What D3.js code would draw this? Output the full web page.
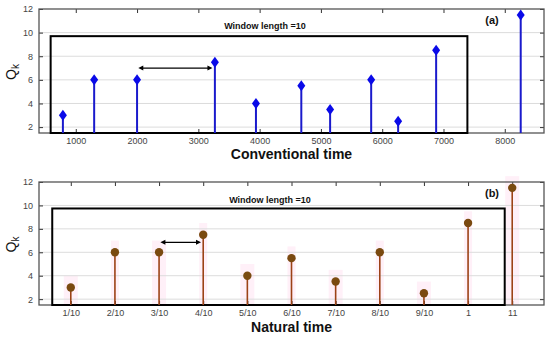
<!DOCTYPE html>
<html><head><meta charset="utf-8">
<script src="https://cdn.jsdelivr.net/npm/d3@7"></script>
<style>body{margin:0;background:#fff}svg{display:block}</style>
</head><body>
<svg id="c" width="550" height="338"></svg>
<script>
// ---- data ----
const convTime = [790, 1300, 2000, 3270, 3940, 4680, 5150, 5820, 6260, 6880, 8260];
const qValues  = [3, 6, 6, 7.5, 4, 5.5, 3.5, 6, 2.5, 8.5, 11.5];
const natLabels = ["1/10","2/10","3/10","4/10","5/10","6/10","7/10","8/10","9/10","1","11"];
const convTicks = [1000,2000,3000,4000,5000,6000,7000,8000];
const yTicks = [2,4,6,8,10,12];
const windowA = {x0: 590, x1: 7390, top: 9.7};
const arrowA = {x0: 2020, x1: 3230, y: 7};
const windowB = {x0: -0.42, x1: 9.83, top: 9.74};
const arrowB = {x0: 2.03, x1: 2.95, y: 6.85};
const windowText = "Window length =10";

const svg = d3.select("#c");
const L = 39, R = 544;
const font = "Liberation Sans, Arial, Helvetica, sans-serif";

function panel(top, bottom, xScale, ticks, tickFmt, xLabel, tag, labelY, win, arr, textX, textY) {
  const y = d3.scaleLinear().domain([1.5, 12]).range([bottom, top]);
  const g = svg.append("g");
  g.selectAll(".grid").data(yTicks.filter(t => t < 12)).join("line")
    .attr("x1", L).attr("x2", R).attr("y1", d => y(d)).attr("y2", d => y(d))
    .attr("stroke", "#dcdcdc").attr("stroke-width", 1);
  const axL = d3.axisLeft(y).tickValues(yTicks).tickSize(-4).tickPadding(6);
  const gl = g.append("g").attr("transform", `translate(${L},0)`).call(axL);
  const axR = d3.axisRight(y).tickValues(yTicks).tickSize(-4).tickFormat("");
  const gr = g.append("g").attr("transform", `translate(${R},0)`).call(axR);
  const axB = d3.axisBottom(xScale).tickValues(ticks).tickSize(-4).tickPadding(5).tickFormat(tickFmt);
  const gb = g.append("g").attr("transform", `translate(0,${bottom})`).call(axB);
  const axT = d3.axisTop(xScale).tickValues(ticks).tickSize(-4).tickFormat("");
  const gt = g.append("g").attr("transform", `translate(0,${top})`).call(axT);
  [gl, gr, gb, gt].forEach(a => {
    a.select(".domain").remove();
    a.selectAll(".tick line").attr("stroke", "#333").attr("stroke-width", 1);
    a.selectAll("text").attr("fill", "#444").style("font-family", font).style("font-size", "9px");
  });
  g.append("rect").attr("x", L).attr("y", top).attr("width", R - L).attr("height", bottom - top)
    .attr("fill", "none").attr("stroke", "#555").attr("stroke-width", 1.3);
  g.append("text").attr("x", (L + R) / 2).attr("y", labelY).attr("text-anchor", "middle")
    .style("font-family", font).style("font-weight", "bold").style("font-size", "14px").attr("fill", "#111")
    .text(xLabel);
  const yl = g.append("text").attr("transform", `translate(16,${(top + bottom) / 2 + 1}) rotate(-90)`)
    .attr("text-anchor", "middle").style("font-family", font).style("font-size", "14px").attr("fill", "#111");
  yl.append("tspan").text("Q");
  yl.append("tspan").attr("dy", 3).style("font-size", "10px").text("k");
  g.append("text").attr("x", 492).attr("y", top + 15).attr("text-anchor", "middle")
    .style("font-family", font).style("font-weight", "bold").style("font-size", "11px").attr("fill", "#111").text(tag);
  g.append("rect").attr("x", xScale(win.x0)).attr("y", y(win.top))
    .attr("width", xScale(win.x1) - xScale(win.x0)).attr("height", bottom - y(win.top))
    .attr("fill", "none").attr("stroke", "#000").attr("stroke-width", 2);
  g.append("text").attr("x", textX).attr("y", textY).attr("text-anchor", "middle")
    .style("font-family", font).style("font-weight", "bold").style("font-size", "9px").attr("fill", "#111").text(windowText);
  const ax0 = xScale(arr.x0), ax1 = xScale(arr.x1), ay = y(arr.y);
  g.append("line").attr("x1", ax0 + 3).attr("x2", ax1 - 3).attr("y1", ay).attr("y2", ay)
    .attr("stroke", "#000").attr("stroke-width", 1.3);
  g.append("path").attr("d", `M${ax0},${ay} l5,-2.5 l0,5 Z M${ax1},${ay} l-5,-2.5 l0,5 Z`).attr("fill", "#000");
  return {g, y};
}

// Panel (a)
const xa = d3.scaleLinear().domain([400, 8640]).range([L, R]);
const pa = panel(9, 133, xa, convTicks, d3.format("d"), "Conventional time", "(a)", 159, windowA, arrowA, 265, 29);
pa.g.selectAll(".stemA").data(qValues).join("line")
  .attr("x1", (d, i) => xa(convTime[i])).attr("x2", (d, i) => xa(convTime[i]))
  .attr("y1", pa.y(1.5)).attr("y2", d => pa.y(d))
  .attr("stroke", "#1a1acc").attr("stroke-width", 2);
pa.g.selectAll(".dia").data(qValues).join("path")
  .attr("d", "M0,-5.5 L4,0 L0,5.5 L-4,0 Z")
  .attr("transform", (d, i) => `translate(${xa(convTime[i])},${pa.y(d)})`)
  .attr("fill", "#0a0ae8");

// Panel (b)
const idx = natLabels.map((d, i) => i);
const xb = d3.scaleLinear().domain([-0.72, 10.72]).range([L, R]);
const pb = panel(182, 305, xb, idx, i => natLabels[i], "Natural time", "(b)", 332, windowB, arrowB, 270, 203);
pb.g.insert("g", ":first-child").selectAll("rect").data(qValues).join("rect")
  .attr("x", (d, i) => xb(i) - (i % 2 === 0 ? 7 : 4))
  .attr("width", (d, i) => (i % 2 === 0 ? 14 : 8))
  .attr("y", d => pb.y(d + 1)).attr("height", d => pb.y(1.5) - pb.y(d + 1))
  .attr("fill", "#fff0f8");
pb.g.selectAll(".stemB").data(qValues).join("line")
  .attr("x1", (d, i) => xb(i)).attr("x2", (d, i) => xb(i))
  .attr("y1", pb.y(1.5)).attr("y2", d => pb.y(d))
  .attr("stroke", "#9c4216").attr("stroke-width", 1.6);
pb.g.selectAll(".dot").data(qValues).join("circle")
  .attr("cx", (d, i) => xb(i)).attr("cy", d => pb.y(d)).attr("r", 4.2)
  .attr("fill", "#7a4a10");
</script>
</body></html>
